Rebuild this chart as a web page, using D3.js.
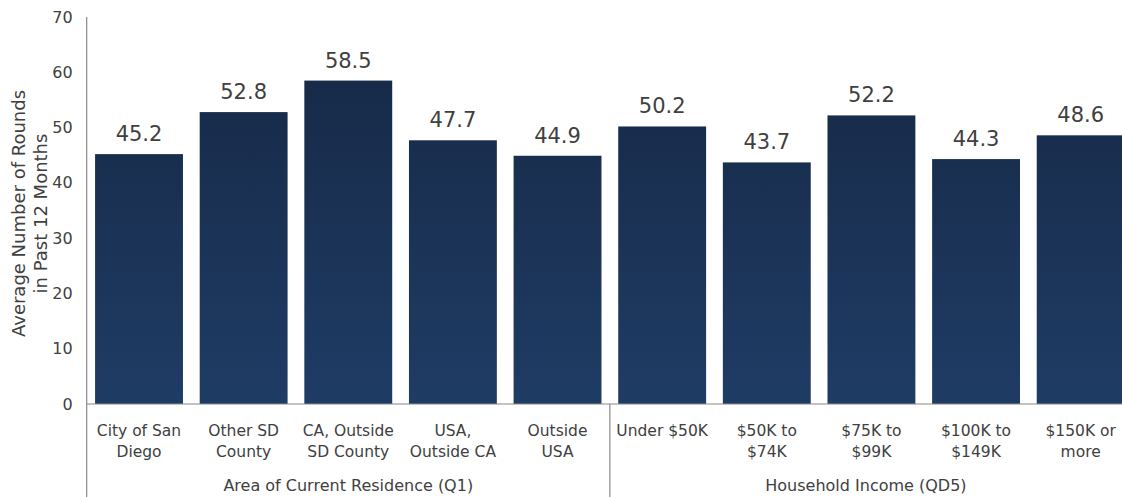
<!DOCTYPE html>
<html>
<head>
<meta charset="utf-8">
<script src="https://cdn.jsdelivr.net/npm/d3@7"></script>
<style>
  html, body { margin: 0; padding: 0; background: #fff; }
  svg { display: block; font-family: "DejaVu Sans", sans-serif; }
</style>
</head>
<body>
<svg id="chart" width="1122" height="497"></svg>
<script>
// Category labels (line-broken) and their values
const categories = [
  ["City of San", "Diego"],
  ["Other SD", "County"],
  ["CA, Outside", "SD County"],
  ["USA,", "Outside CA"],
  ["Outside", "USA"],
  ["Under $50K"],
  ["$50K to", "$74K"],
  ["$75K to", "$99K"],
  ["$100K to", "$149K"],
  ["$150K or", "more"]
];
const values = [45.2, 52.8, 58.5, 47.7, 44.9, 50.2, 43.7, 52.2, 44.3, 48.6];
const groups = [
  { label: "Area of Current Residence (Q1)", start: 0, end: 5 },
  { label: "Household Income (QD5)", start: 5, end: 10 }
];
const yTicks = [0, 10, 20, 30, 40, 50, 60, 70];
const yTitle = ["Average Number of Rounds", "in Past 12 Months"];

const svg = d3.select("#chart");
const plotLeft = 86.7, plotRight = 1133, plotTop = 17, plotBottom = 404;
const textColor = "#404040";
const axisColor = "#888";

const x = d3.scaleBand()
  .domain(d3.range(categories.length))
  .range([plotLeft, plotRight])
  .paddingInner(0.16)
  .paddingOuter(0.08);

const y = d3.scaleLinear().domain([0, 70]).range([plotBottom, plotTop]);

// Vertical gradient for bars
const defs = svg.append("defs");
const grad = defs.append("linearGradient")
  .attr("id", "barGrad")
  .attr("gradientUnits", "userSpaceOnUse")
  .attr("x1", 0).attr("x2", 0)
  .attr("y1", y(60)).attr("y2", y(0));
grad.append("stop").attr("offset", "0%").attr("stop-color", "#172a48");
grad.append("stop").attr("offset", "100%").attr("stop-color", "#1f3c65");

// Bars
svg.append("g").selectAll("rect")
  .data(values)
  .join("rect")
  .attr("x", (d, i) => x(i))
  .attr("width", x.bandwidth())
  .attr("y", d => y(d))
  .attr("height", d => y(0) - y(d))
  .attr("fill", "url(#barGrad)");

// Value labels
svg.append("g").selectAll("text")
  .data(values)
  .join("text")
  .attr("x", (d, i) => x(i) + x.bandwidth() / 2)
  .attr("y", d => y(d) - 13)
  .attr("text-anchor", "middle")
  .attr("font-size", 21)
  .attr("fill", textColor)
  .text(d => d.toFixed(1));

// Y axis
const yAxis = d3.axisLeft(y).tickValues(yTicks).tickSize(0).tickPadding(14);
const yg = svg.append("g").attr("transform", `translate(${plotLeft},0)`).call(yAxis);
yg.select(".domain").remove();
yg.selectAll("text").attr("font-size", 16).attr("fill", textColor)
  .attr("font-family", "DejaVu Sans, sans-serif");

// Axis lines
svg.append("line")
  .attr("x1", plotLeft).attr("x2", plotLeft)
  .attr("y1", plotTop).attr("y2", 497)
  .attr("stroke", axisColor).attr("stroke-width", 1.2);
svg.append("line")
  .attr("x1", plotLeft).attr("x2", 1122)
  .attr("y1", plotBottom).attr("y2", plotBottom)
  .attr("stroke", axisColor).attr("stroke-width", 1.2);

// Group divider
const step = x.step();
groups.slice(1).forEach(g => {
  const gx = x(g.start) - step * x.paddingInner() / 2;
  svg.append("line")
    .attr("x1", gx).attr("x2", gx)
    .attr("y1", plotBottom).attr("y2", 497)
    .attr("stroke", axisColor).attr("stroke-width", 1.2);
});

// Category labels
const catG = svg.append("g");
categories.forEach((lines, i) => {
  const cx = x(i) + x.bandwidth() / 2;
  const t = catG.append("text")
    .attr("x", cx)
    .attr("y", 436)
    .attr("text-anchor", "middle")
    .attr("font-size", 15.5)
    .attr("fill", textColor);
  lines.forEach((ln, j) => {
    t.append("tspan")
      .attr("x", cx)
      .attr("dy", j === 0 ? 0 : 21)
      .text(ln);
  });
});

// Group labels
groups.forEach(g => {
  const x0 = x(g.start) - step * x.paddingInner() / 2;
  const x1 = x(g.end - 1) + x.bandwidth() + step * x.paddingInner() / 2;
  svg.append("text")
    .attr("x", (x0 + Math.min(x1, 1122)) / 2)
    .attr("y", 491)
    .attr("text-anchor", "middle")
    .attr("font-size", 16)
    .attr("fill", textColor)
    .text(g.label);
});

// Y axis title
const yt = svg.append("text")
  .attr("transform", `translate(25, ${(plotTop + plotBottom) / 2 + 3}) rotate(-90)`)
  .attr("text-anchor", "middle")
  .attr("font-size", 18)
  .attr("fill", textColor);
yTitle.forEach((ln, j) => {
  yt.append("tspan").attr("x", 0).attr("dy", j === 0 ? 0 : 22).text(ln);
});
</script>
</body>
</html>
